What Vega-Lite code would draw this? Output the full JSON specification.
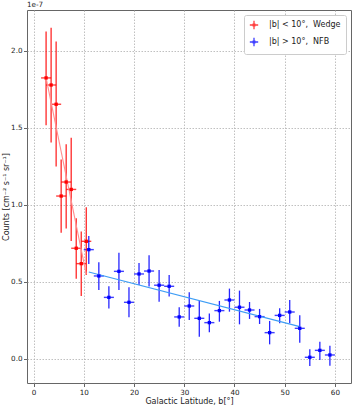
{
  "$schema": "https://vega.github.io/schema/vega-lite/v6.json",
  "width": 324,
  "height": 373,
  "autosize": {"type": "none"},
  "padding": {"left": 27, "top": 10, "right": 3, "bottom": 26},
  "background": "white",
  "config": {
    "font": "DejaVu Sans",
    "view": {"stroke": "#666", "strokeWidth": 1},
    "axis": {
      "grid": true,
      "gridColor": "#b0b0b0",
      "gridDash": [1.5, 1.5],
      "gridWidth": 0.8,
      "domain": false,
      "tickColor": "#666",
      "tickSize": 3.5,
      "labelFont": "DejaVu Sans",
      "labelFontSize": 7.2,
      "labelColor": "#222",
      "titleFont": "DejaVu Sans",
      "titleFontSize": 8,
      "titleFontWeight": "normal",
      "titleColor": "#222"
    }
  },
  "datasets": {
    "pts": [
      {"series": "|b| < 10°,\u00a0 Wedge", "b": 2.5, "y": 1.825, "ylo": 1.517, "yhi": 2.127},
      {"series": "|b| < 10°,\u00a0 Wedge", "b": 3.5, "y": 1.779, "ylo": 1.405, "yhi": 2.151},
      {"series": "|b| < 10°,\u00a0 Wedge", "b": 4.5, "y": 1.654, "ylo": 1.249, "yhi": 2.062},
      {"series": "|b| < 10°,\u00a0 Wedge", "b": 5.5, "y": 1.058, "ylo": 0.820, "yhi": 1.296},
      {"series": "|b| < 10°,\u00a0 Wedge", "b": 6.5, "y": 1.149, "ylo": 0.848, "yhi": 1.394},
      {"series": "|b| < 10°,\u00a0 Wedge", "b": 7.5, "y": 1.101, "ylo": 0.766, "yhi": 1.437},
      {"series": "|b| < 10°,\u00a0 Wedge", "b": 8.5, "y": 0.719, "ylo": 0.521, "yhi": 0.914},
      {"series": "|b| < 10°,\u00a0 Wedge", "b": 9.5, "y": 0.619, "ylo": 0.409, "yhi": 0.827},
      {"series": "|b| < 10°,\u00a0 Wedge", "b": 10.5, "y": 0.764, "ylo": 0.545, "yhi": 0.985},
      {"series": "|b| > 10°,\u00a0 NFB", "b": 11, "y": 0.710, "ylo": 0.617, "yhi": 0.799},
      {"series": "|b| > 10°,\u00a0 NFB", "b": 13, "y": 0.539, "ylo": 0.448, "yhi": 0.628},
      {"series": "|b| > 10°,\u00a0 NFB", "b": 15, "y": 0.400, "ylo": 0.327, "yhi": 0.472},
      {"series": "|b| > 10°,\u00a0 NFB", "b": 17, "y": 0.569, "ylo": 0.448, "yhi": 0.690},
      {"series": "|b| > 10°,\u00a0 NFB", "b": 19, "y": 0.368, "ylo": 0.271, "yhi": 0.466},
      {"series": "|b| > 10°,\u00a0 NFB", "b": 21, "y": 0.552, "ylo": 0.481, "yhi": 0.623},
      {"series": "|b| > 10°,\u00a0 NFB", "b": 23, "y": 0.571, "ylo": 0.470, "yhi": 0.673},
      {"series": "|b| > 10°,\u00a0 NFB", "b": 25, "y": 0.479, "ylo": 0.372, "yhi": 0.578},
      {"series": "|b| > 10°,\u00a0 NFB", "b": 27, "y": 0.472, "ylo": 0.405, "yhi": 0.545},
      {"series": "|b| > 10°,\u00a0 NFB", "b": 29, "y": 0.273, "ylo": 0.210, "yhi": 0.336},
      {"series": "|b| > 10°,\u00a0 NFB", "b": 31, "y": 0.344, "ylo": 0.253, "yhi": 0.433},
      {"series": "|b| > 10°,\u00a0 NFB", "b": 33, "y": 0.264, "ylo": 0.145, "yhi": 0.379},
      {"series": "|b| > 10°,\u00a0 NFB", "b": 35, "y": 0.236, "ylo": 0.173, "yhi": 0.296},
      {"series": "|b| > 10°,\u00a0 NFB", "b": 37, "y": 0.314, "ylo": 0.242, "yhi": 0.377},
      {"series": "|b| > 10°,\u00a0 NFB", "b": 39, "y": 0.383, "ylo": 0.307, "yhi": 0.457},
      {"series": "|b| > 10°,\u00a0 NFB", "b": 41, "y": 0.336, "ylo": 0.225, "yhi": 0.444},
      {"series": "|b| > 10°,\u00a0 NFB", "b": 43, "y": 0.318, "ylo": 0.260, "yhi": 0.370},
      {"series": "|b| > 10°,\u00a0 NFB", "b": 45, "y": 0.275, "ylo": 0.227, "yhi": 0.325},
      {"series": "|b| > 10°,\u00a0 NFB", "b": 47, "y": 0.171, "ylo": 0.095, "yhi": 0.247},
      {"series": "|b| > 10°,\u00a0 NFB", "b": 49, "y": 0.283, "ylo": 0.232, "yhi": 0.329},
      {"series": "|b| > 10°,\u00a0 NFB", "b": 51, "y": 0.305, "ylo": 0.232, "yhi": 0.383},
      {"series": "|b| > 10°,\u00a0 NFB", "b": 53, "y": 0.199, "ylo": 0.106, "yhi": 0.284},
      {"series": "|b| > 10°,\u00a0 NFB", "b": 55, "y": 0.011, "ylo": -0.045, "yhi": 0.063},
      {"series": "|b| > 10°,\u00a0 NFB", "b": 57, "y": 0.056, "ylo": -0.006, "yhi": 0.112},
      {"series": "|b| > 10°,\u00a0 NFB", "b": 59, "y": 0.026, "ylo": -0.044, "yhi": 0.086}
    ],
    "xerr": [
      {"series": "|b| < 10°,\u00a0 Wedge", "y": 1.825, "xlo": 1.5, "xhi": 3.5},
      {"series": "|b| < 10°,\u00a0 Wedge", "y": 1.779, "xlo": 2.5, "xhi": 4.5},
      {"series": "|b| < 10°,\u00a0 Wedge", "y": 1.654, "xlo": 3.5, "xhi": 5.5},
      {"series": "|b| < 10°,\u00a0 Wedge", "y": 1.058, "xlo": 4.5, "xhi": 6.5},
      {"series": "|b| < 10°,\u00a0 Wedge", "y": 1.149, "xlo": 5.5, "xhi": 7.5},
      {"series": "|b| < 10°,\u00a0 Wedge", "y": 1.101, "xlo": 6.5, "xhi": 8.5},
      {"series": "|b| < 10°,\u00a0 Wedge", "y": 0.719, "xlo": 7.5, "xhi": 9.5},
      {"series": "|b| < 10°,\u00a0 Wedge", "y": 0.619, "xlo": 8.5, "xhi": 10.5},
      {"series": "|b| < 10°,\u00a0 Wedge", "y": 0.764, "xlo": 9.5, "xhi": 11.5},
      {"series": "|b| > 10°,\u00a0 NFB", "y": 0.710, "xlo": 10, "xhi": 12},
      {"series": "|b| > 10°,\u00a0 NFB", "y": 0.539, "xlo": 12, "xhi": 14},
      {"series": "|b| > 10°,\u00a0 NFB", "y": 0.400, "xlo": 14, "xhi": 16},
      {"series": "|b| > 10°,\u00a0 NFB", "y": 0.569, "xlo": 16, "xhi": 18},
      {"series": "|b| > 10°,\u00a0 NFB", "y": 0.368, "xlo": 18, "xhi": 20},
      {"series": "|b| > 10°,\u00a0 NFB", "y": 0.552, "xlo": 20, "xhi": 22},
      {"series": "|b| > 10°,\u00a0 NFB", "y": 0.571, "xlo": 22, "xhi": 24},
      {"series": "|b| > 10°,\u00a0 NFB", "y": 0.479, "xlo": 24, "xhi": 26},
      {"series": "|b| > 10°,\u00a0 NFB", "y": 0.472, "xlo": 26, "xhi": 28},
      {"series": "|b| > 10°,\u00a0 NFB", "y": 0.273, "xlo": 28, "xhi": 30},
      {"series": "|b| > 10°,\u00a0 NFB", "y": 0.344, "xlo": 30, "xhi": 32},
      {"series": "|b| > 10°,\u00a0 NFB", "y": 0.264, "xlo": 32, "xhi": 34},
      {"series": "|b| > 10°,\u00a0 NFB", "y": 0.236, "xlo": 34, "xhi": 36},
      {"series": "|b| > 10°,\u00a0 NFB", "y": 0.314, "xlo": 36, "xhi": 38},
      {"series": "|b| > 10°,\u00a0 NFB", "y": 0.383, "xlo": 38, "xhi": 40},
      {"series": "|b| > 10°,\u00a0 NFB", "y": 0.336, "xlo": 40, "xhi": 42},
      {"series": "|b| > 10°,\u00a0 NFB", "y": 0.318, "xlo": 42, "xhi": 44},
      {"series": "|b| > 10°,\u00a0 NFB", "y": 0.275, "xlo": 44, "xhi": 46},
      {"series": "|b| > 10°,\u00a0 NFB", "y": 0.171, "xlo": 46, "xhi": 48},
      {"series": "|b| > 10°,\u00a0 NFB", "y": 0.283, "xlo": 48, "xhi": 50},
      {"series": "|b| > 10°,\u00a0 NFB", "y": 0.305, "xlo": 50, "xhi": 52},
      {"series": "|b| > 10°,\u00a0 NFB", "y": 0.199, "xlo": 52, "xhi": 54},
      {"series": "|b| > 10°,\u00a0 NFB", "y": 0.011, "xlo": 54, "xhi": 56},
      {"series": "|b| > 10°,\u00a0 NFB", "y": 0.056, "xlo": 56, "xhi": 58},
      {"series": "|b| > 10°,\u00a0 NFB", "y": 0.026, "xlo": 58, "xhi": 60}
    ],
    "fits": [
      {"fit": "wedge", "b": 2.5, "y": 1.825},
      {"fit": "wedge", "b": 10.5, "y": 0.55},
      {"fit": "nfb", "b": 11, "y": 0.565},
      {"fit": "nfb", "b": 53, "y": 0.21}
    ],
    "note": [{"label": "1e-7", "b": -1.3, "y": 2.266}]
  },
  "layer": [
    {
      "data": {"name": "xerr"},
      "mark": {"type": "rule", "strokeWidth": 1.4, "opacity": 0.75},
      "encoding": {
        "x": {"field": "xlo", "type": "quantitative", "scale": {"domain": [-1.3, 63.2], "nice": false, "zero": false},
              "axis": {"values": [0, 10, 20, 30, 40, 50, 60], "title": "Galactic Latitude, b[°]", "titlePadding": 2, "labelPadding": 2}},
        "x2": {"field": "xhi"},
        "y": {"field": "y", "type": "quantitative", "scale": {"domain": [-0.156, 2.266], "nice": false, "zero": false},
              "axis": {"values": [0, 0.5, 1, 1.5, 2], "format": ".1f", "title": "Counts [cm⁻² s⁻¹ sr⁻¹]", "titlePadding": 0, "labelPadding": 1.5}},
        "color": {"field": "series", "type": "nominal", "scale": {"domain": ["|b| < 10°,\u00a0 Wedge", "|b| > 10°,\u00a0 NFB"], "range": ["#ff0000", "#0000ff"]}}
      }
    },
    {
      "data": {"name": "pts"},
      "mark": {"type": "rule", "strokeWidth": 1.3, "opacity": 0.85},
      "encoding": {
        "x": {"field": "b", "type": "quantitative"},
        "y": {"field": "ylo", "type": "quantitative"},
        "y2": {"field": "yhi"},
        "color": {"field": "series", "type": "nominal"}
      }
    },
    {
      "data": {"name": "fits"},
      "mark": {"type": "line", "strokeWidth": 1.1},
      "encoding": {
        "x": {"field": "b", "type": "quantitative"},
        "y": {"field": "y", "type": "quantitative"},
        "detail": {"field": "fit"},
        "stroke": {"field": "fit", "type": "nominal", "scale": {"domain": ["wedge", "nfb"], "range": ["#ff8f8f", "#3d9df5"]}, "legend": null}
      }
    },
    {
      "data": {"name": "note"},
      "mark": {"type": "text", "align": "left", "baseline": "bottom", "dy": -1, "fontSize": 7.2, "color": "#222", "clip": false},
      "encoding": {
        "x": {"field": "b", "type": "quantitative"},
        "y": {"field": "y", "type": "quantitative"},
        "text": {"field": "label"}
      }
    },
    {
      "data": {"name": "pts"},
      "mark": {"type": "point", "shape": "square", "filled": true, "size": 11, "opacity": 1},
      "encoding": {
        "x": {"field": "b", "type": "quantitative"},
        "y": {"field": "y", "type": "quantitative"},
        "color": {"field": "series", "type": "nominal",
          "legend": {
            "orient": "top-right", "title": null, "offset": 5,
            "fillColor": "white", "strokeColor": "#cccccc", "cornerRadius": 2, "padding": 5,
            "labelFont": "DejaVu Sans", "labelFontSize": 8, "labelColor": "#222",
            "symbolType": "M-1,0H1M0,-1V1M-0.2,-0.2H0.2V0.2H-0.2Z", "symbolSize": 70, "symbolStrokeWidth": 1.3,
            "rowPadding": 3, "labelOffset": 10,
            "encode": {"symbols": {"update": {"stroke": {"scale": "color", "field": "value"}, "fill": {"scale": "color", "field": "value"}}}}
          }
        }
      }
    }
  ]
}
